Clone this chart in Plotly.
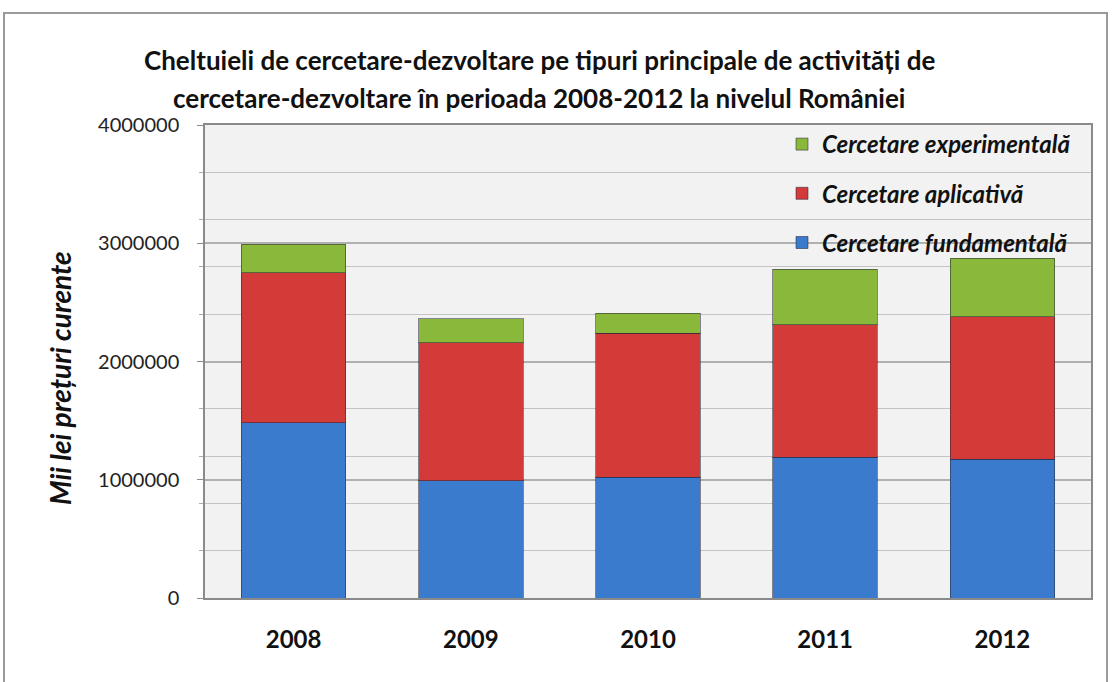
import plotly.graph_objects as go

years = ["2008", "2009", "2010", "2011", "2012"]
fundamentala = [1480000, 990000, 1020000, 1190000, 1175000]
aplicativa = [1270000, 1170000, 1220000, 1120000, 1205000]
experimentala = [240000, 200000, 170000, 470000, 495000]
series_names = ["Cercetare fundamentală", "Cercetare aplicativă", "Cercetare experimentală"]
legend_ranks = [3, 2, 1]
colors = ["#3a7bcd", "#d23b38", "#8ab83a"]
y_ticks = [0, 1000000, 2000000, 3000000, 4000000]
title_lines = [
    "Cheltuieli de cercetare-dezvoltare pe tipuri principale de activități de",
    "cercetare-dezvoltare în perioada 2008-2012 la nivelul României",
]
y_title = "Mii lei prețuri curente"

W, H = 1112, 682
L, R, T, B = 205, 21, 125, 84
pw, ph = W - L - R, H - T - B

fig = go.Figure()
for name, vals, col, rk in zip(series_names, [fundamentala, aplicativa, experimentala], colors, legend_ranks):
    fig.add_trace(go.Bar(
        x=years, y=vals, name=name, legendgroup=name, legendrank=rk,
        marker=dict(color=col, line=dict(color="rgba(40,40,60,0.55)", width=1)),
    ))

def px_x(p):
    return (p - L) / pw

def px_y(p):
    return (H - B - p) / ph

annotations = []
for line, ypx in zip(title_lines, [60, 98]):
    annotations.append(dict(
        text=line, xref="paper", yref="paper", x=px_x(539), y=px_y(ypx),
        xanchor="center", yanchor="middle", showarrow=False,
        font=dict(family="Lato", size=26, color="#111111", weight="bold"),
    ))
annotations.append(dict(
    text=y_title, textangle=-90,
    xref="paper", yref="paper", x=px_x(60), y=px_y(378),
    xanchor="center", yanchor="middle", showarrow=False,
    font=dict(family="Lato", size=28, color="#111111", style="italic", weight="bold"),
))

fig.update_layout(
    width=W, height=H,
    barmode="stack", bargap=0.41,
    paper_bgcolor="white", plot_bgcolor="#f2f2f2",
    margin=dict(l=L, r=R, t=T, b=B, autoexpand=False),
    font=dict(family="Lato", color="#222222"),
    showlegend=True,
    legend=dict(
        x=px_x(1076), xanchor="right", y=px_y(122), yanchor="top",
        traceorder="grouped", tracegroupgap=15,
        bgcolor="rgba(0,0,0,0)",
        font=dict(family="Lato", size=24, color="#111111", style="italic", weight="bold"),
        itemwidth=30,
    ),
    shapes=[dict(
        type="rect", xref="paper", yref="paper",
        x0=px_x(4), x1=px_x(1107), y0=px_y(700), y1=px_y(13),
        line=dict(color="#9a9a9a", width=2), fillcolor="rgba(0,0,0,0)", layer="below",
    )],
    annotations=annotations,
)

fig.update_xaxes(
    showline=True, linecolor="#8a8a8a", linewidth=1.5, mirror=True,
    tickfont=dict(family="Lato", size=24, color="#111111", weight="bold"),
    ticks="", showgrid=False, ticklabelstandoff=19,
)
fig.update_yaxes(
    range=[0, 4000000], tickvals=y_ticks, ticktext=[str(v) for v in y_ticks],
    showline=True, linecolor="#8a8a8a", linewidth=1.5, mirror=True,
    ticks="outside", ticklen=6, tickcolor="#8a8a8a",
    showgrid=True, gridcolor="#b0b0b0", gridwidth=1.5,
    minor=dict(dtick=400000, tick0=0, showgrid=True, gridcolor="#c4c4c4", gridwidth=1.2, ticks="outside", ticklen=4, tickcolor="#aaaaaa"),
    tickfont=dict(family="Lato", size=20, color="#222222"),
    ticklabelstandoff=14,
    zeroline=False,
)

fig.write_html("out.html", config={"displayModeBar": False},
               post_script="document.body.style.margin='0px';")
